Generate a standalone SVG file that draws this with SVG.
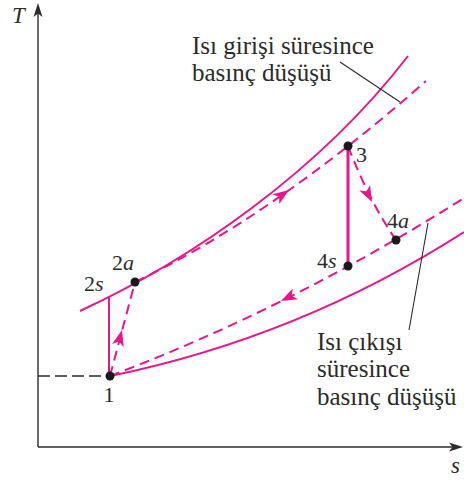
<svg xmlns="http://www.w3.org/2000/svg" width="464" height="481" viewBox="0 0 464 481">
<style>
.ax{stroke:#2b2b2b;stroke-width:1.4;fill:none}
.ld{stroke:#2b2b2b;stroke-width:1.1;fill:none}
.pk{stroke:#e8158c;stroke-width:2;fill:none}
.pkd{stroke:#e8158c;stroke-width:2;fill:none;stroke-dasharray:10 6}
.ah{fill:#e8158c}
.dot{fill:#1a1a1a}
.lbl{font-family:"Liberation Serif","Times New Roman",serif;font-size:25px;fill:#2b2b2b}
.pt{font-family:"Liberation Serif","Times New Roman",serif;font-size:22px;fill:#2b2b2b}
.it{font-style:italic}
</style>
<defs>
<path id="arr" d="M0,0 L-16,-6 L-12,0 L-16,6 Z"/>
<path id="axarr" d="M0,0 L-14,-4.5 L-10.5,0 L-14,4.5 Z" fill="#2b2b2b"/>
</defs>
<g id="axes">
<line class="ax" x1="38" y1="447" x2="38" y2="8"/>
<line class="ax" x1="38" y1="447" x2="458" y2="447"/>
<use href="#axarr" transform="translate(38,3) rotate(-90)"/>
<use href="#axarr" transform="translate(463,447)"/>
<text class="pt it" x="12" y="23" style="font-size:23px">T</text>
<text class="pt it" x="451" y="473" style="font-size:23px">s</text>
</g>
<g id="connectors">
<path class="pk" d="M80,311 C190,260 318,173 408,56"/>
<path class="pkd" d="M135,282 Q273,216 426,81"/>
<path class="pk" d="M110,376 Q300,337 464,232"/>
<path class="pkd" d="M110,376 Q290,308 464,198"/>
<line class="pk" x1="109" y1="376" x2="109" y2="297"/>
<line class="pk" x1="348" y1="146" x2="348" y2="266" style="stroke-width:3"/>
<line class="pkd" x1="110" y1="376" x2="135" y2="282"/>
<path class="pkd" d="M348,146 Q370,203 396,240"/>
<line x1="38" y1="376" x2="105" y2="376" style="stroke:#2b2b2b;stroke-width:1.3;stroke-dasharray:12 5"/>
<use class="ah" href="#arr" transform="translate(289,190) rotate(-35)"/>
<use class="ah" href="#arr" transform="translate(122,330) rotate(-75)"/>
<use class="ah" href="#arr" transform="translate(372,202) rotate(63)"/>
<use class="ah" href="#arr" transform="translate(281,301) rotate(153.5)"/>
<line class="ld" x1="340" y1="62" x2="400" y2="102"/>
<line class="ld" x1="428" y1="223" x2="409" y2="330"/>
</g>
<g id="node-1"><circle class="dot" cx="110" cy="376" r="4.5"/><text class="pt" x="109" y="402" text-anchor="middle">1</text></g>
<g id="node-2s"><text class="pt" x="84" y="291">2<tspan class="it">s</tspan></text></g>
<g id="node-2a"><circle class="dot" cx="135" cy="282" r="4.5"/><text class="pt" x="112" y="270">2<tspan class="it">a</tspan></text></g>
<g id="node-3"><circle class="dot" cx="348" cy="146" r="4.5"/><text class="pt" x="356" y="162">3</text></g>
<g id="node-4a"><circle class="dot" cx="396" cy="240" r="4.5"/><text class="pt" x="387" y="228">4<tspan class="it">a</tspan></text></g>
<g id="node-4s"><circle class="dot" cx="348" cy="266" r="4.5"/><text class="pt" x="317" y="268">4<tspan class="it">s</tspan></text></g>
<g id="label-top"><text class="lbl" x="192" y="54">Isı girişi süresince</text><text class="lbl" x="192" y="81">basınç düşüşü</text></g>
<g id="label-bottom"><text class="lbl" x="317" y="350">Isı çıkışı</text><text class="lbl" x="317" y="377">süresince</text><text class="lbl" x="317" y="405">basınç düşüşü</text></g>
</svg>
